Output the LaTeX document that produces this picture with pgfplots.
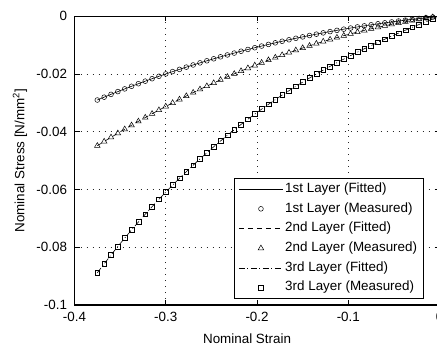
\documentclass[border=0pt]{standalone}
\usepackage{fontspec}
\setmainfont{Liberation Sans}
\usepackage{pgfplots}
\usepackage{pgfplotstable}
\pgfplotsset{compat=1.18}
\usetikzlibrary{calc}

\pgfplotstableread{
x s1 s2 s3
-0.375 -0.02900 -0.04483 -0.08885
-0.3675 -0.02801 -0.04337 -0.08573
-0.36 -0.02704 -0.04193 -0.08269
-0.3525 -0.02608 -0.04051 -0.07972
-0.345 -0.02515 -0.03911 -0.07683
-0.3375 -0.02424 -0.03774 -0.07400
-0.33 -0.02335 -0.03639 -0.07125
-0.3225 -0.02247 -0.03507 -0.06856
-0.315 -0.02162 -0.03377 -0.06594
-0.3075 -0.02078 -0.03249 -0.06339
-0.3 -0.01996 -0.03123 -0.06090
-0.2925 -0.01916 -0.03000 -0.05848
-0.285 -0.01838 -0.02879 -0.05611
-0.2775 -0.01761 -0.02760 -0.05381
-0.27 -0.01686 -0.02644 -0.05157
-0.2625 -0.01613 -0.02530 -0.04939
-0.255 -0.01542 -0.02418 -0.04726
-0.2475 -0.01472 -0.02309 -0.04519
-0.24 -0.01404 -0.02202 -0.04318
-0.2325 -0.01338 -0.02097 -0.04121
-0.225 -0.01274 -0.01995 -0.03931
-0.2175 -0.01210 -0.01895 -0.03745
-0.21 -0.01149 -0.01797 -0.03564
-0.2025 -0.01089 -0.01701 -0.03388
-0.195 -0.01031 -0.01608 -0.03216
-0.1875 -0.00974 -0.01517 -0.03050
-0.18 -0.00919 -0.01429 -0.02887
-0.1725 -0.00865 -0.01343 -0.02729
-0.165 -0.00813 -0.01259 -0.02576
-0.1575 -0.00762 -0.01177 -0.02426
-0.15 -0.00713 -0.01098 -0.02280
-0.1425 -0.00665 -0.01021 -0.02138
-0.135 -0.00619 -0.00947 -0.02000
-0.1275 -0.00574 -0.00874 -0.01865
-0.12 -0.00530 -0.00804 -0.01734
-0.1125 -0.00487 -0.00737 -0.01606
-0.105 -0.00446 -0.00671 -0.01482
-0.0975 -0.00407 -0.00608 -0.01360
-0.09 -0.00368 -0.00548 -0.01241
-0.0825 -0.00331 -0.00489 -0.01125
-0.075 -0.00295 -0.00433 -0.01012
-0.0675 -0.00260 -0.00379 -0.00901
-0.06 -0.00227 -0.00328 -0.00793
-0.0525 -0.00195 -0.00279 -0.00687
-0.045 -0.00163 -0.00232 -0.00584
-0.0375 -0.00133 -0.00188 -0.00482
-0.03 -0.00105 -0.00145 -0.00382
-0.0225 -0.00077 -0.00106 -0.00284
-0.015 -0.00050 -0.00068 -0.00188
-0.0075 -0.00025 -0.00033 -0.00093
0 0 0 0
}\datatable

\begin{document}
\begin{tikzpicture}
\begin{axis}[
  scale only axis,
  width=365.1pt, height=288.7pt,
  xmin=-0.4, xmax=0, ymin=-0.1, ymax=0,
  xtick={-0.4,-0.3,-0.2,-0.1,0},
  ytick={-0.1,-0.08,-0.06,-0.04,-0.02,0},
  scaled ticks=false,
  /pgf/number format/assume math mode=true,
  xticklabel style={/pgf/number format/fixed, yshift=-3.5pt},
  yticklabel style={/pgf/number format/fixed,/pgf/number format/precision=2, xshift=-4pt},
  tick label style={font=\fontsize{13.4}{16}\selectfont},
  label style={font=\fontsize{13.4}{16}\selectfont},
  tick align=inside,
  major tick length=5pt,
  tick style={black, line width=0.6pt},
  axis line style={line width=1.1pt},
  grid=major,
  major grid style={black!85, line width=0.7pt, dash pattern=on 1.2pt off 4.8pt},
  xlabel={Nominal Strain},
  ylabel={Nominal Stress [N/mm\textsuperscript{2}]},
  xlabel style={at={(axis description cs:0.5,0)}, anchor=center, yshift=-34pt, xshift=-10pt},
  ylabel style={at={(axis description cs:0,0.5)}, anchor=center, yshift=54.5pt},
  legend style={at={(axis cs:-0.0175,-0.0979)}, anchor=south east,
    draw=black, line width=1.1pt, fill=white,
    font=\fontsize{13.4}{16}\selectfont,
    row sep=2.2pt, inner xsep=4pt, inner ysep=2pt,
    nodes={inner sep=2pt, text height=10pt, text depth=3.5pt}},
  legend cell align=left,
  legend image code/.code={\draw[mark repeat=2,mark phase=2,#1] plot coordinates {(0pt,0pt) (22pt,0pt) (44pt,0pt)};},
]
\addplot[black, line width=0.6pt, solid] table[x=x,y=s1]{\datatable};
\addlegendentry{1st Layer (Fitted)}
\addplot[black, only marks, mark=o, mark size=2.4pt, mark options={solid, line width=0.5pt}] table[x=x,y=s1]{\datatable};
\addlegendentry{1st Layer (Measured)}
\addplot[black, line width=0.6pt, dash pattern=on 5pt off 4pt] table[x=x,y=s2]{\datatable};
\addlegendentry{2nd Layer (Fitted)}
\addplot[black, only marks, mark=triangle, mark size=3.2pt, mark options={solid, line width=0.5pt}] table[x=x,y=s2]{\datatable};
\addlegendentry{2nd Layer (Measured)}
\addplot[black, line width=0.6pt, dash pattern=on 6pt off 2.5pt on 1pt off 2.5pt] table[x=x,y=s3]{\datatable};
\addlegendentry{3rd Layer (Fitted)}
\addplot[black, only marks, mark=square, mark size=2.4pt, mark options={solid, line width=0.5pt}] table[x=x,y=s3]{\datatable};
\addlegendentry{3rd Layer (Measured)}
\end{axis}
\pgfresetboundingbox
\path[use as bounding box] ($(current axis.south west)+(-74.5pt,-42pt)$) rectangle ($(current axis.north east)+(-2.6pt,16.3pt)$);
\end{tikzpicture}
\end{document}
